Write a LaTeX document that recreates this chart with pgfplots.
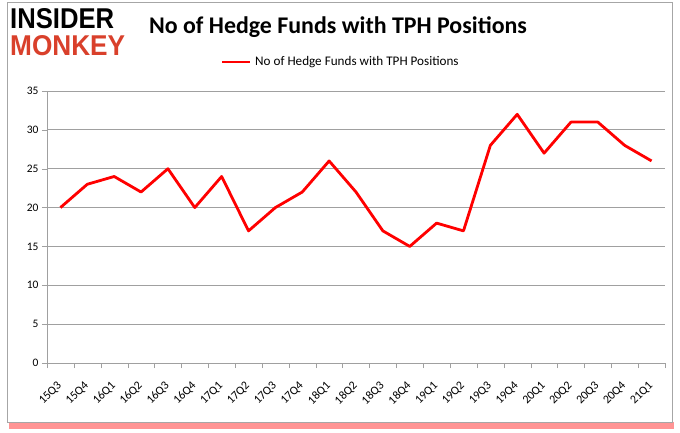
\documentclass[border=0pt]{standalone}
\usepackage{pgfplots}
\pgfplotsset{compat=1.18}
\usepackage{fontspec}
\setmainfont{Carlito}
\definecolor{imred}{HTML}{D9402B}
\definecolor{gridgray}{HTML}{A0A0A0}
\begin{document}
\begin{tikzpicture}
\path[use as bounding box] (0bp,0bp) rectangle (680bp,433bp);
% frame with red shadow
\fill[red!70, opacity=0.6] (9bp,4bp) rectangle (674bp,11bp);
\fill[white] (7bp,10bp) rectangle (672bp,430bp);
\draw[gray!70, line width=1bp] (7bp,10bp) rectangle (672bp,430bp);
% logo
\node[anchor=north west, inner sep=0] at (10bp,425bp) {\resizebox{104bp}{20bp}{\fontspec{Liberation Sans}\bfseries INSIDER}};
\node[anchor=north west, inner sep=0] at (10bp,398bp) {\resizebox{115bp}{20bp}{\fontspec{Liberation Sans}\bfseries\color{imred}MONKEY}};
% title
\node[font=\bfseries\fontsize{24}{28}\selectfont] at (338bp,406bp) {No of Hedge Funds with TPH Positions};
% legend
\draw[red, line width=2.5bp] (222bp,371bp) -- (250bp,371bp);
\node[anchor=west, font=\fontsize{13.2}{15}\selectfont, inner sep=0] at (255bp,371bp) {No of Hedge Funds with TPH Positions};
\begin{axis}[
  at={(47bp,70bp)}, anchor=south west,
  scale only axis, width=618bp, height=272bp,
  xmin=-0.5, xmax=22.5, ymin=0, ymax=35,
  ytick={0,5,...,35},
  xtick={0,...,22},
  xticklabels={15Q3,15Q4,16Q1,16Q2,16Q3,16Q4,17Q1,17Q2,17Q3,17Q4,18Q1,18Q2,18Q3,18Q4,19Q1,19Q2,19Q3,19Q4,20Q1,20Q2,20Q3,20Q4,21Q1},
  minor xtick={-0.5,0.5,...,22.5},
  major x tick style={draw=none},
  minor x tick style={gridgray},
  y tick style={gridgray},
  tick align=outside,
  major tick length=5bp, minor tick length=5bp,
  ymajorgrids, grid style={gridgray, line width=0.8bp},
  axis x line*=bottom, axis y line*=left,
  axis line style={gridgray, line width=0.8bp, -},
  x tick label style={xshift=-4bp, yshift=-11bp, rotate=45, anchor=north east, font=\fontsize{12}{13}\selectfont, inner sep=1bp},
  y tick label style={font=\fontsize{11.5}{13}\selectfont},
  /pgf/number format/assume math mode=true,
]
\addplot[red, line width=2.8bp, line join=round] coordinates {
(0,20)(1,23)(2,24)(3,22)(4,25)(5,20)(6,24)(7,17)(8,20)(9,22)(10,26)(11,22)(12,17)(13,15)(14,18)(15,17)(16,28)(17,32)(18,27)(19,31)(20,31)(21,28)(22,26)};
\end{axis}
\end{tikzpicture}
\end{document}
